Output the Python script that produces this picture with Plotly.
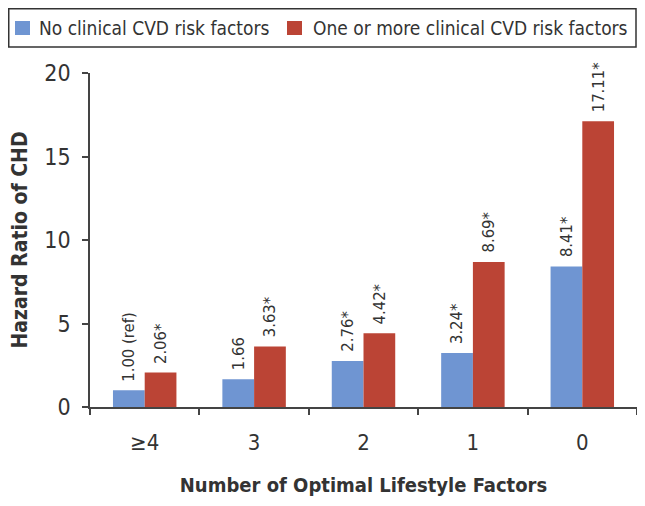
import plotly.graph_objects as go

categories = ["≥4", "3", "2", "1", "0"]
no_cvd = [1.00, 1.66, 2.76, 3.24, 8.41]
no_cvd_labels = ["1.00 (ref)", "1.66", "2.76*", "3.24*", "8.41*"]
cvd = [2.06, 3.63, 4.42, 8.69, 17.11]
cvd_labels = ["2.06*", "3.63*", "4.42*", "8.69*", "17.11*"]
series_names = ["No clinical CVD risk factors", "One or more clinical CVD risk factors"]
series_colors = ["#6f95d2", "#bb4435"]

FONT = "DejaVu Sans Condensed, sans-serif"
TXT = "#333333"
W, H = 637, 498
L, R, T, B = 82, 8, 65, 99
PW, PH = W - L - R, H - T - B
BAR_W_PX = 31.5


def px(xp):
    return (xp - L) / PW


def py(yp):
    return 1 - (yp - T) / PH


fig = go.Figure()
fig.add_trace(go.Bar(x=categories, y=no_cvd, name=series_names[0],
                     marker=dict(color=series_colors[0], line=dict(width=0))))
fig.add_trace(go.Bar(x=categories, y=cvd, name=series_names[1],
                     marker=dict(color=series_colors[1], line=dict(width=0))))

for i, (v, t) in enumerate(zip(no_cvd, no_cvd_labels)):
    fig.add_annotation(x=i, y=v, text=t, textangle=-90, showarrow=False,
                       xanchor="center", yanchor="bottom", xshift=-BAR_W_PX / 2, yshift=7,
                       font=dict(family=FONT, size=16.5, color=TXT))
for i, (v, t) in enumerate(zip(cvd, cvd_labels)):
    fig.add_annotation(x=i, y=v, text=t, textangle=-90, showarrow=False,
                       xanchor="center", yanchor="bottom", xshift=BAR_W_PX / 2, yshift=7,
                       font=dict(family=FONT, size=16.5, color=TXT))

# legend box
fig.add_shape(type="rect", xref="paper", yref="paper",
              x0=px(0.75), x1=px(628), y0=py(0.75), y1=py(39),
              line=dict(color="#333333", width=1.5), fillcolor="white")
sq_x = [7, 279]
txt_x = [29, 303]
for name, col, sx, tx in zip(series_names, series_colors, sq_x, txt_x):
    fig.add_shape(type="rect", xref="paper", yref="paper",
                  x0=px(sx), x1=px(sx + 15), y0=py(13), y1=py(27),
                  line=dict(width=0), fillcolor=col)
    fig.add_annotation(xref="paper", yref="paper", x=px(tx), y=py(20), text=name,
                       showarrow=False, xanchor="left", yanchor="middle",
                       font=dict(family=FONT, size=19, color=TXT))

fig.update_layout(
    width=W, height=H,
    margin=dict(l=L, r=R, t=T, b=B, autoexpand=False),
    paper_bgcolor="white", plot_bgcolor="white",
    barmode="group", bargap=0.42, bargroupgap=0,
    font=dict(family=FONT, color=TXT),
    showlegend=False,
)
fig.update_xaxes(
    automargin=False,
    showline=True, linecolor="#444444", linewidth=1.5,
    ticks="outside", tickson="boundaries", ticklen=6, tickcolor="#444444", tickwidth=1.5,
    tickfont=dict(family=FONT, size=22, color=TXT), ticklabelstandoff=15,
    title=dict(text="<b>Number of Optimal Lifestyle Factors</b>", font=dict(family=FONT, size=20, color=TXT), standoff=24),
    showgrid=False,
)
fig.update_yaxes(
    automargin=False,
    range=[0, 20], tickvals=[0, 5, 10, 15, 20],
    showline=True, linecolor="#444444", linewidth=1.5,
    ticks="outside", ticklen=6, tickcolor="#444444", tickwidth=1.5,
    tickfont=dict(family=FONT, size=23, color=TXT), ticklabelstandoff=7,
    title=dict(text="<b>Hazard Ratio of CHD</b>", font=dict(family=FONT, size=21, color=TXT), standoff=25),
    showgrid=False, zeroline=False,
)

fig.write_html("out.html")
